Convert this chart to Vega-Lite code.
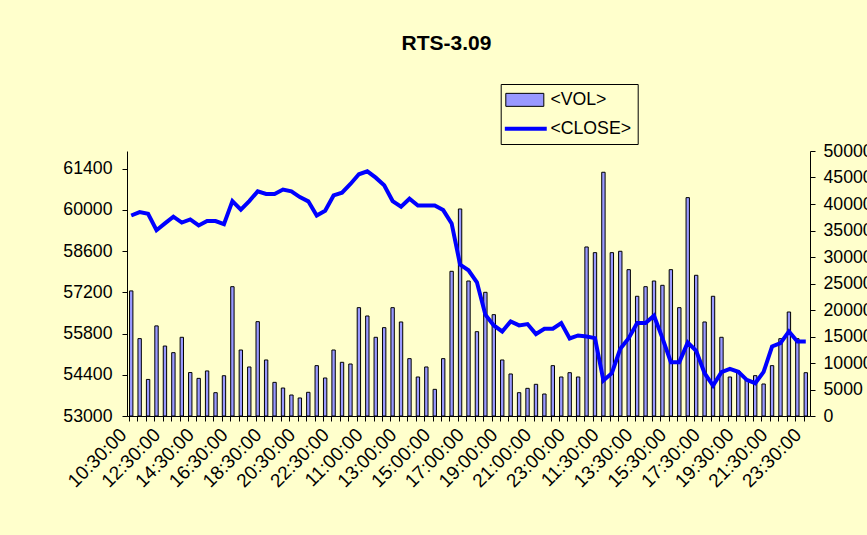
{
  "$schema": "https://vega.github.io/schema/vega-lite/v6.json",
  "width": 683,
  "height": 265,
  "autosize": {"type": "none"},
  "padding": {"left": 127, "top": 151, "right": 57, "bottom": 119},
  "background": "#FFFFCC",
  "title": {"text": "RTS-3.09", "anchor": "middle", "dx": -22, "offset": 30, "fontSize": 21, "fontWeight": "bold", "color": "black", "font": "Liberation Sans"},
  "config": {
    "font": "Liberation Sans",
    "view": {"stroke": null},
    "axis": {"domainColor": "black", "tickColor": "black", "labelColor": "black", "labelFontSize": 17.7, "labelFont": "Liberation Sans", "grid": false, "title": null, "tickSize": 5}
  },
  "data": {"values": [
    {"k": "00 10:30:00", "vol": 23600, "close": 59810},
    {"k": "01 11:00:00", "vol": 14600, "close": 59925},
    {"k": "02 11:30:00", "vol": 6900, "close": 59870},
    {"k": "03 12:00:00", "vol": 17000, "close": 59310},
    {"k": "04 12:30:00", "vol": 13200, "close": 59540},
    {"k": "05 13:00:00", "vol": 11950, "close": 59770},
    {"k": "06 13:30:00", "vol": 14850, "close": 59570},
    {"k": "07 14:00:00", "vol": 8200, "close": 59675},
    {"k": "08 14:30:00", "vol": 7100, "close": 59470},
    {"k": "09 15:00:00", "vol": 8500, "close": 59620},
    {"k": "10 15:30:00", "vol": 4400, "close": 59620},
    {"k": "11 16:00:00", "vol": 7600, "close": 59515},
    {"k": "12 16:30:00", "vol": 24400, "close": 60300},
    {"k": "13 17:00:00", "vol": 12450, "close": 60006},
    {"k": "14 17:30:00", "vol": 9250, "close": 60300},
    {"k": "15 18:00:00", "vol": 17800, "close": 60630},
    {"k": "16 18:30:00", "vol": 10570, "close": 60540},
    {"k": "17 19:00:00", "vol": 6350, "close": 60540},
    {"k": "18 19:30:00", "vol": 5280, "close": 60690},
    {"k": "19 20:00:00", "vol": 3960, "close": 60630},
    {"k": "20 20:30:00", "vol": 3400, "close": 60435},
    {"k": "21 21:00:00", "vol": 4470, "close": 60290},
    {"k": "22 21:30:00", "vol": 9500, "close": 59810},
    {"k": "23 22:00:00", "vol": 7170, "close": 59970},
    {"k": "24 22:30:00", "vol": 12450, "close": 60490},
    {"k": "25 23:00:00", "vol": 10130, "close": 60585},
    {"k": "26 23:30:00", "vol": 9810, "close": 60880},
    {"k": "27 10:30:00", "vol": 20440, "close": 61210},
    {"k": "28 11:00:00", "vol": 18870, "close": 61310},
    {"k": "29 11:30:00", "vol": 14850, "close": 61095},
    {"k": "30 12:00:00", "vol": 16670, "close": 60834},
    {"k": "31 12:30:00", "vol": 20440, "close": 60300},
    {"k": "32 13:00:00", "vol": 17740, "close": 60108},
    {"k": "33 13:30:00", "vol": 10820, "close": 60380},
    {"k": "34 14:00:00", "vol": 7360, "close": 60150},
    {"k": "35 14:30:00", "vol": 9250, "close": 60150},
    {"k": "36 15:00:00", "vol": 5030, "close": 60150},
    {"k": "37 15:30:00", "vol": 10820, "close": 59993},
    {"k": "38 16:00:00", "vol": 27300, "close": 59540},
    {"k": "39 16:30:00", "vol": 39060, "close": 58143},
    {"k": "40 17:00:00", "vol": 25470, "close": 57950},
    {"k": "41 17:30:00", "vol": 15910, "close": 57540},
    {"k": "42 18:00:00", "vol": 23340, "close": 56440},
    {"k": "43 18:30:00", "vol": 19120, "close": 56076},
    {"k": "44 19:00:00", "vol": 10570, "close": 55872},
    {"k": "45 19:30:00", "vol": 7930, "close": 56213},
    {"k": "46 20:00:00", "vol": 4400, "close": 56076},
    {"k": "47 20:30:00", "vol": 5220, "close": 56123},
    {"k": "48 21:00:00", "vol": 5980, "close": 55783},
    {"k": "49 21:30:00", "vol": 4150, "close": 55963},
    {"k": "50 22:00:00", "vol": 9500, "close": 55963},
    {"k": "51 22:30:00", "vol": 7360, "close": 56157},
    {"k": "52 23:00:00", "vol": 8170, "close": 55633},
    {"k": "53 23:30:00", "vol": 7360, "close": 55735},
    {"k": "54 10:30:00", "vol": 31890, "close": 55700},
    {"k": "55 11:00:00", "vol": 30820, "close": 55645},
    {"k": "56 11:30:00", "vol": 45990, "close": 54203},
    {"k": "57 12:00:00", "vol": 30820, "close": 54453},
    {"k": "58 12:30:00", "vol": 31080, "close": 55282},
    {"k": "59 13:00:00", "vol": 27610, "close": 55645},
    {"k": "60 13:30:00", "vol": 22590, "close": 56157},
    {"k": "61 14:00:00", "vol": 24400, "close": 56157},
    {"k": "62 14:30:00", "vol": 25470, "close": 56406},
    {"k": "63 15:00:00", "vol": 24660, "close": 55645},
    {"k": "64 15:30:00", "vol": 27610, "close": 54829},
    {"k": "65 16:00:00", "vol": 20440, "close": 54829},
    {"k": "66 16:30:00", "vol": 41200, "close": 55497},
    {"k": "67 17:00:00", "vol": 26550, "close": 55214},
    {"k": "68 17:30:00", "vol": 17740, "close": 54453},
    {"k": "69 18:00:00", "vol": 22590, "close": 54033},
    {"k": "70 18:30:00", "vol": 14850, "close": 54487},
    {"k": "71 19:00:00", "vol": 7360, "close": 54600},
    {"k": "72 19:30:00", "vol": 8490, "close": 54500},
    {"k": "73 20:00:00", "vol": 6790, "close": 54226},
    {"k": "74 20:30:00", "vol": 7610, "close": 54113},
    {"k": "75 21:00:00", "vol": 6040, "close": 54500},
    {"k": "76 21:30:00", "vol": 9500, "close": 55360},
    {"k": "77 22:00:00", "vol": 14590, "close": 55475},
    {"k": "78 22:30:00", "vol": 19620, "close": 55872},
    {"k": "79 23:00:00", "vol": 14590, "close": 55531},
    {"k": "80 23:30:00", "vol": 8170, "close": 55531}
  ]},
  "encoding": {
    "x": {
      "field": "k", "type": "nominal", "sort": null,
      "scale": {"paddingInner": 0.6, "paddingOuter": 0.3},
      "axis": {
        "bandPosition": 0, "labelAngle": -45, "labelAlign": "right", "labelBaseline": "top",
        "labelPadding": 4, "labelOffset": -14, "labelOverlap": false, "labelFontSize": 19,
        "labelExpr": "toNumber(slice(datum.value, 0, 2)) % 4 === 0 ? slice(datum.value, 3) : ''"
      }
    }
  },
  "layer": [
    {
      "mark": {"type": "bar", "stroke": "black", "strokeWidth": 1},
      "encoding": {
        "y": {"field": "vol", "type": "quantitative", "scale": {"domain": [0, 50000]},
          "axis": {"orient": "right", "values": [0, 5000, 10000, 15000, 20000, 25000, 30000, 35000, 40000, 45000, 50000], "format": "d", "labelPadding": 8}},
        "fill": {"datum": "<VOL>", "type": "nominal",
          "scale": {"domain": ["<VOL>"], "range": ["#9999FF"]},
          "legend": {
            "title": null, "orient": "none", "legendX": 373.7, "legendY": -66,
            "padding": 6, "labelFontSize": 17.7, "labelFont": "Liberation Sans", "labelColor": "black",
            "symbolType": "M-1.5,-1H4.35V1H-1.5Z", "symbolSize": 169, "symbolStrokeColor": "black", "symbolStrokeWidth": 1,
            "labelOffset": 26
          }}
      }
    },
    {
      "mark": {"type": "line", "strokeWidth": 4},
      "encoding": {
        "y": {"field": "close", "type": "quantitative", "scale": {"domain": [53000, 62000], "zero": false},
          "axis": {"orient": "left", "values": [53000, 54400, 55800, 57200, 58600, 60000, 61400], "format": "d", "labelPadding": 10}},
        "stroke": {"datum": "<CLOSE>", "type": "nominal",
          "scale": {"domain": ["<CLOSE>"], "range": ["#0000FF"]},
          "legend": {
            "title": "\u00a0\u00a0\u00a0\u00a0\u00a0\u00a0\u00a0\u00a0\u00a0\u00a0\u00a0\u00a0\u00a0\u00a0\u00a0\u00a0\u00a0\u00a0\u00a0\u00a0\u00a0\u00a0\u00a0\u00a0\u00a0\u00a0\u00a0\u00a0\u00a0",
            "titleFontSize": 18, "titlePadding": 12, "titleFont": "Liberation Sans", "titleAnchor": "start",
            "orient": "none", "legendX": 373.7, "legendY": -67,
            "strokeColor": "black", "padding": 6, "labelFontSize": 17.7, "labelFont": "Liberation Sans", "labelColor": "black",
            "symbolType": "M-1.65,0H4.8", "symbolSize": 169, "symbolStrokeWidth": 4,
            "labelOffset": 26
          }}
      }
    }
  ],
  "resolve": {"scale": {"y": "independent"}}
}
